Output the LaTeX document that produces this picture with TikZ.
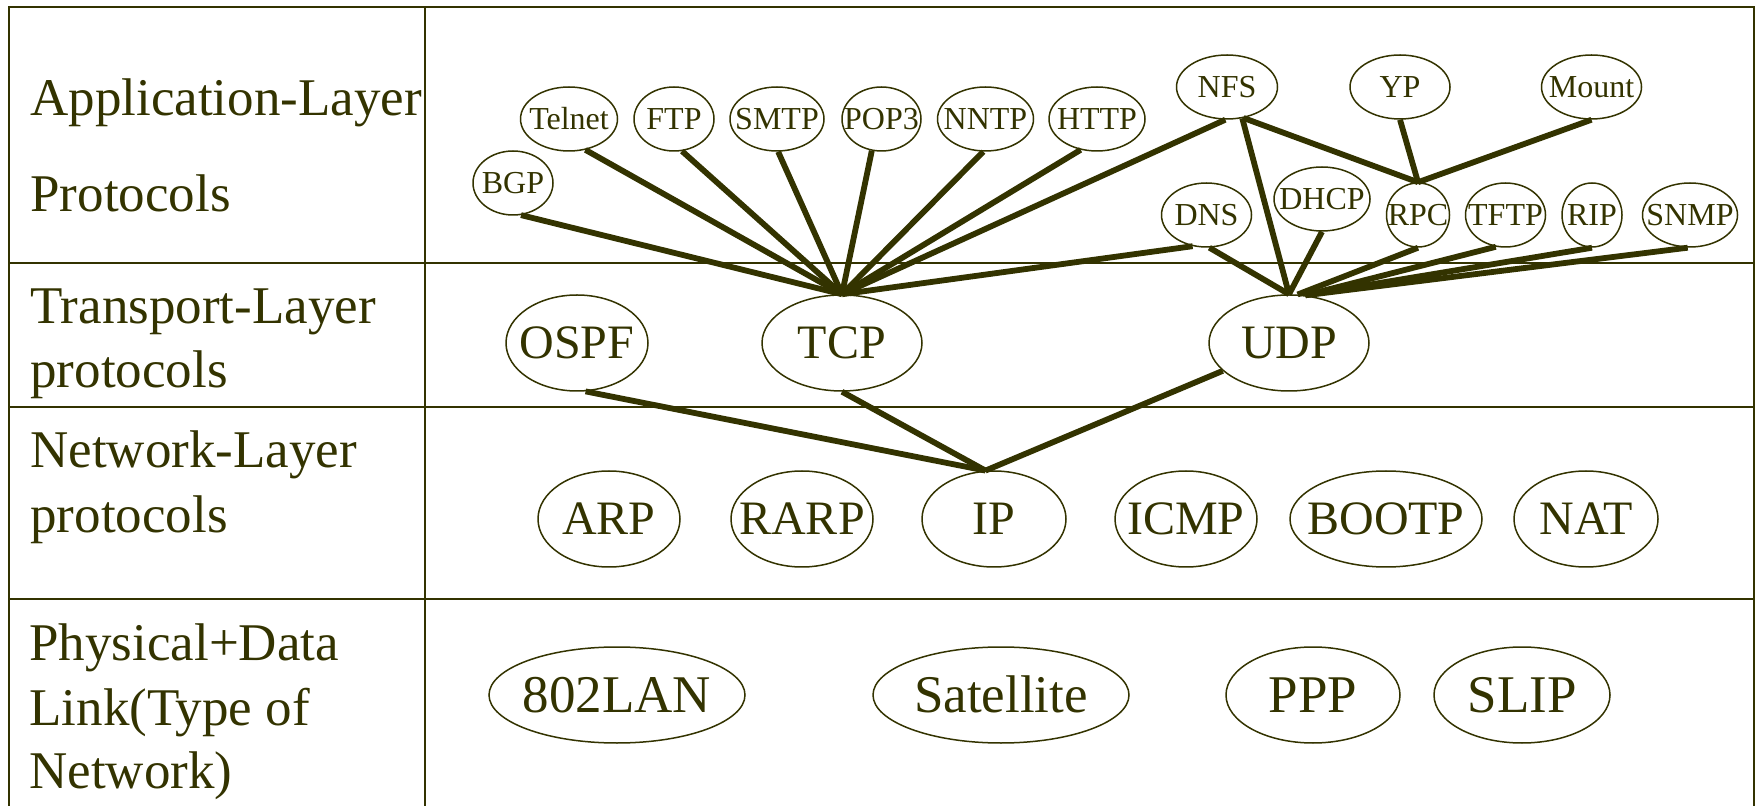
\documentclass[tikz,border=0pt]{standalone}
\usepackage{fontspec}
\setmainfont{Liberation Serif}
\usetikzlibrary{shapes.geometric}
\definecolor{olive}{RGB}{51,51,0}
% label centred on the node without enlarging the ellipse
\newcommand\ptext[1]{\makebox[0pt]{\raisebox{-0.33em}[0pt][0pt]{#1}}}
\tikzset{
  grid/.style={draw=olive,line width=0.9pt},
  rowlbl/.style={anchor=base west,inner sep=0pt,text=olive,font=\fontsize{26.5}{30}\selectfont},
  bigproto/.style={ellipse,draw=olive,line width=0.75pt,inner sep=0pt,minimum height=48pt,text=olive,font=\fontsize{24}{28}\selectfont},
  linkproto/.style={bigproto,font=\fontsize{26.5}{30}\selectfont},
  smallproto/.style={ellipse,draw=olive,line width=0.75pt,inner sep=0pt,minimum height=32pt,text=olive,font=\fontsize{16}{18}\selectfont},
  link/.style={draw=olive,line width=2.9pt}
}
\begin{document}
\begin{tikzpicture}[x=0.5pt,y=-0.5pt]
\useasboundingbox (0,0) rectangle (1756,806);
% table frame
\draw[grid] (9,806) -- (9,7) -- (1754,7) -- (1754,806);
\draw[grid] (425,7) -- (425,806);
\draw[grid] (9,263) -- (1754,263);
\draw[grid] (9,407) -- (1754,407);
\draw[grid] (9,599) -- (1754,599);

% layer names
\node[rowlbl] (l1a) at (30,116) {Application-Layer};
\node[rowlbl] (l1b) at (30,212) {Protocols};
\node[rowlbl] (l2a) at (30,324) {Transport-Layer};
\node[rowlbl] (l2b) at (30,388) {protocols};
\node[rowlbl] (l3a) at (30,468) {Network-Layer};
\node[rowlbl] (l3b) at (30,533) {protocols};
\node[rowlbl] (l4a) at (29,661) {Physical+Data};
\node[rowlbl] (l4b) at (29,725) {Link(Type of};
\node[rowlbl] (l4c) at (29,788) {Network)};

% application layer
\node[smallproto,minimum width=40pt]   (bgp)    at (513,183)  {\ptext{BGP}};
\node[smallproto,minimum width=48.5pt] (telnet) at (569,119)  {\ptext{Telnet}};
\node[smallproto,minimum width=40pt]   (ftp)    at (674,119)  {\ptext{FTP}};
\node[smallproto,minimum width=47pt]   (smtp)   at (777,119)  {\ptext{SMTP}};
\node[smallproto,minimum width=39.5pt] (pop)    at (881.5,119){\ptext{POP3}};
\node[smallproto,minimum width=48pt]   (nntp)   at (985.5,119){\ptext{NNTP}};
\node[smallproto,minimum width=48pt]   (http)   at (1097,119) {\ptext{HTTP}};
\node[smallproto,minimum width=50.5pt] (nfs)    at (1227,87)  {\ptext{NFS}};
\node[smallproto,minimum width=50pt]   (yp)     at (1400,87)  {\ptext{YP}};
\node[smallproto,minimum width=50pt]   (mount)  at (1591.5,87){\ptext{Mount}};
\node[smallproto,minimum width=45pt]   (dns)    at (1206.5,215){\ptext{DNS}};
\node[smallproto,minimum width=48pt]   (dhcp)   at (1322,199) {\ptext{DHCP}};
\node[smallproto,minimum width=31.5pt] (rpc)    at (1418,215) {\ptext{RPC}};
\node[smallproto,minimum width=40pt]   (tftp)   at (1505.5,215){\ptext{TFTP}};
\node[smallproto,minimum width=30pt]   (rip)    at (1592,215) {\ptext{RIP}};
\node[smallproto,minimum width=47.5pt] (snmp)   at (1690,215) {\ptext{SNMP}};

% transport layer
\node[bigproto,minimum width=71pt] (ospf) at (577,343)  {\ptext{OSPF}};
\node[bigproto,minimum width=80pt] (tcp)  at (842,343)  {\ptext{TCP}};
\node[bigproto,minimum width=80pt] (udp)  at (1289,343) {\ptext{UDP}};

% network layer
\node[bigproto,minimum width=71pt] (arp)   at (609,519)  {\ptext{ARP}};
\node[bigproto,minimum width=71pt] (rarp)  at (802,519)  {\ptext{RARP}};
\node[bigproto,minimum width=72pt] (ip)    at (994,519)  {\ptext{IP}};
\node[bigproto,minimum width=71pt] (icmp)  at (1186,519) {\ptext{ICMP}};
\node[bigproto,minimum width=96pt] (bootp) at (1386,519) {\ptext{BOOTP}};
\node[bigproto,minimum width=72pt] (nat)   at (1586,519) {\ptext{NAT}};

% physical + data link
\node[linkproto,minimum width=128pt] (lan)  at (617,695)  {\ptext{802LAN}};
\node[linkproto,minimum width=128pt] (sat)  at (1001,695) {\ptext{Satellite}};
\node[linkproto,minimum width=87pt]  (ppp)  at (1313,695) {\ptext{PPP}};
\node[linkproto,minimum width=88pt]  (slip) at (1522,695) {\ptext{SLIP}};

% applications over TCP
\draw[link] (bgp.-76)    -- (tcp.north);
\draw[link] (telnet.-62) -- (tcp.north);
\draw[link] (ftp.-76)    -- (tcp.north);
\draw[link] (smtp.-88)   -- (tcp.north);
\draw[link] (pop.-107)   -- (tcp.north);
\draw[link] (nntp.-94)   -- (tcp.north);
\draw[link] (http.-118)  -- (tcp.north);
\draw[link] (nfs.-93)    -- (tcp.north);
\draw[link] (dns.-114)   -- (tcp.north);

% applications over UDP
\draw[link] (nfs.-64)   -- (udp.north);
\draw[link] (dns.-85)   -- (udp.north);
\draw[link] (dhcp.south)-- (udp.north);
\draw[link] (rpc.south) -- (udp.80);
\draw[link] (tftp.-107) -- (udp.71);
\draw[link] (rip.south) -- (udp.71);
\draw[link] (snmp.-94)  -- (udp.71);

% RPC users
\draw[link] (nfs.-62)    -- (rpc.north);
\draw[link] (yp.south)   -- (rpc.north);
\draw[link] (mount.south)-- (rpc.north);

% transport over IP
\draw[link] (ospf.-80)  -- (ip.100);
\draw[link] (tcp.south) -- (ip.100);
\draw[link] (udp)       -- (ip.100);
\end{tikzpicture}
\end{document}
